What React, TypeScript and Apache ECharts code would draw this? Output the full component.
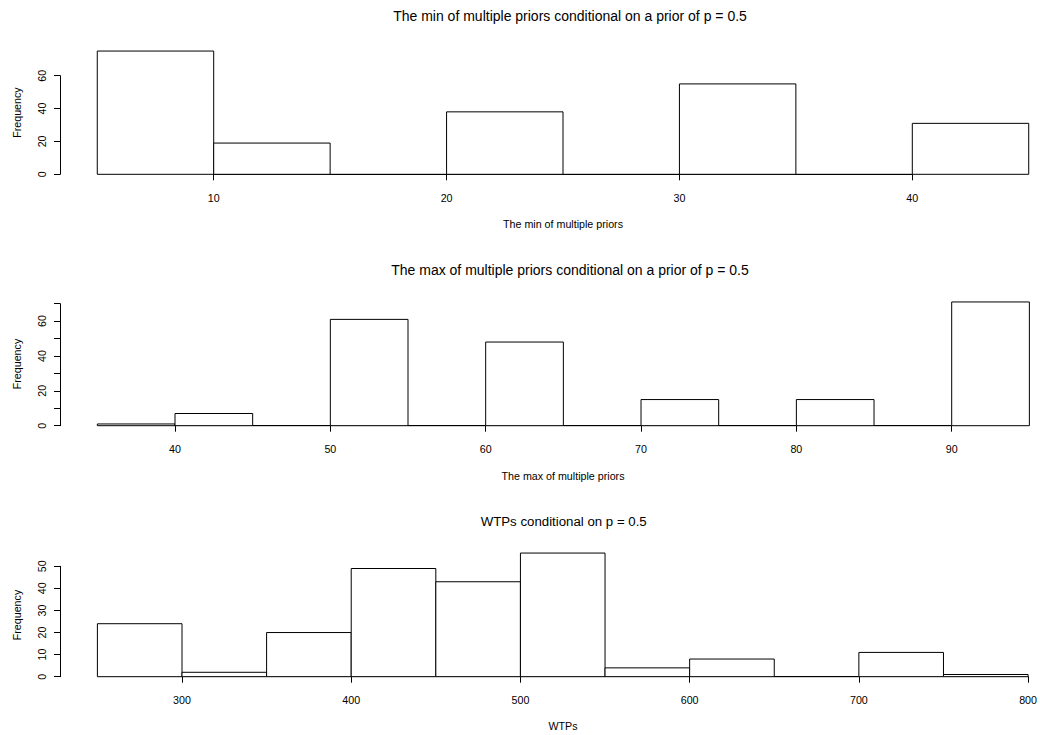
import React, { useEffect, useRef } from "react";
import * as echarts from "echarts";

// ---------- data ----------
const minBreaks = [5, 10, 15, 20, 25, 30, 35, 40, 45];
const minCounts = [75, 19, 0, 38, 0, 55, 0, 31];
const minXTicks = [10, 20, 30, 40];
const minYTicks = [0, 20, 40, 60];
const minYLabels = [0, 20, 40, 60];

const maxBreaks = [35, 40, 45, 50, 55, 60, 65, 70, 75, 80, 85, 90, 95];
const maxCounts = [1, 7, 0, 61, 0, 48, 0, 15, 0, 15, 0, 71];
const maxXTicks = [40, 50, 60, 70, 80, 90];
const maxYTicks = [0, 10, 20, 30, 40, 50, 60, 70];
const maxYLabels = [0, 20, 40, 60];

const wtpBreaks = [250, 300, 350, 400, 450, 500, 550, 600, 650, 700, 750, 800];
const wtpCounts = [24, 2, 20, 49, 43, 56, 4, 8, 0, 11, 1];
const wtpXTicks = [300, 400, 500, 600, 700, 800];
const wtpYTicks = [0, 10, 20, 30, 40, 50];
const wtpYLabels = [0, 10, 20, 30, 40, 50];

const mainTitles = [
  "The min of multiple priors conditional on a prior of p = 0.5",
  "The max of multiple priors conditional on a prior of p = 0.5",
  "WTPs conditional on p = 0.5",
];
const xTitles = ["The min of multiple priors", "The max of multiple priors", "WTPs"];
const yTitle = "Frequency";

// ---------- layout ----------
const FONT = "'Liberation Sans', Arial, Helvetica, sans-serif";
const AXIS_FS = 10.7;
const Y_AXIS_X = 60;

const panels = [
  {
    breaks: minBreaks, counts: minCounts, xTicks: minXTicks, yTicks: minYTicks, yLabels: minYLabels,
    grid: { left: 213.7, top: 75.7, width: 698.6, height: 98.6 },
    titleX: 570, titleY: 16, titleFs: 14, xTitleY: 224, yTitleY: 112.6,
  },
  {
    breaks: maxBreaks, counts: maxCounts, xTicks: maxXTicks, yTicks: maxYTicks, yLabels: maxYLabels,
    grid: { left: 175, top: 303.7, width: 776.7, height: 122 },
    titleX: 570, titleY: 270, titleFs: 14, xTitleY: 476, yTitleY: 364,
  },
  {
    breaks: wtpBreaks, counts: wtpCounts, xTicks: wtpXTicks, yTicks: wtpYTicks, yLabels: wtpYLabels,
    grid: { left: 182, top: 566.3, width: 847, height: 110.4 },
    titleX: 563.7, titleY: 521, titleFs: 13.25, xTitleY: 726, yTitleY: 615,
  },
];

const XTITLE_X = 563;

function buildOption() {
  const grids: any[] = [];
  const xAxes: any[] = [];
  const yAxes: any[] = [];
  const series: any[] = [];
  const graphics: any[] = [];
  const lineStyle = { color: "#000", width: 1 };

  panels.forEach((p, i) => {
    grids.push({ ...p.grid, containLabel: false });
    const xInt = p.xTicks[1] - p.xTicks[0];
    const yInt = p.yTicks[1] - p.yTicks[0];
    xAxes.push({
      gridIndex: i,
      type: "value",
      min: p.xTicks[0],
      max: p.xTicks[p.xTicks.length - 1],
      interval: xInt,
      offset: 5,
      axisLine: { show: true, lineStyle },
      axisTick: { show: true, length: 6, lineStyle },
      axisLabel: {
        margin: 13,
        fontSize: AXIS_FS,
        color: "#000",
        fontFamily: FONT,
        formatter: (v: number) => (p.xTicks.includes(v) ? String(v) : ""),
      },
      splitLine: { show: false },
    });
    yAxes.push({
      gridIndex: i,
      type: "value",
      position: "left",
      min: p.yTicks[0],
      max: p.yTicks[p.yTicks.length - 1],
      interval: yInt,
      offset: p.grid.left - Y_AXIS_X,
      axisLine: { show: true, lineStyle },
      axisTick: { show: true, length: 6, lineStyle },
      axisLabel: {
        margin: 12.5,
        rotate: 90,
        fontSize: AXIS_FS,
        color: "#000",
        fontFamily: FONT,
        formatter: (v: number) => (p.yLabels.includes(v) ? String(v) : ""),
      },
      splitLine: { show: false },
    });
    const data = p.counts.map((c, k) => [p.breaks[k], p.breaks[k + 1], c]);
    series.push({
      type: "custom",
      xAxisIndex: i,
      yAxisIndex: i,
      clip: false,
      silent: true,
      encode: { x: [0, 1], y: 2 },
      data,
      renderItem: (params: any, api: any) => {
        const x0 = api.value(0);
        const x1 = api.value(1);
        const c = api.value(2);
        const pTop = api.coord([x0, c]);
        const pBot = api.coord([x1, 0]);
        if (c === 0) {
          return {
            type: "line",
            shape: { x1: pTop[0], y1: pBot[1], x2: pBot[0], y2: pBot[1] },
            style: { stroke: "#000", lineWidth: 1 },
          };
        }
        return {
          type: "rect",
          shape: { x: pTop[0], y: pTop[1], width: pBot[0] - pTop[0], height: pBot[1] - pTop[1] },
          style: { fill: "#fff", stroke: "#000", lineWidth: 1 },
        };
      },
    });
    graphics.push({
      type: "text",
      x: p.titleX,
      y: p.titleY,
      style: {
        text: mainTitles[i],
        fontSize: p.titleFs,
        fontFamily: FONT,
        fill: "#000",
        textAlign: "center",
        textVerticalAlign: "middle",
      },
    });
    graphics.push({
      type: "text",
      x: XTITLE_X,
      y: p.xTitleY,
      style: {
        text: xTitles[i],
        fontSize: AXIS_FS,
        fontFamily: FONT,
        fill: "#000",
        textAlign: "center",
        textVerticalAlign: "middle",
      },
    });
    graphics.push({
      type: "text",
      x: 17,
      y: p.yTitleY,
      rotation: Math.PI / 2,
      style: {
        text: yTitle,
        fontSize: AXIS_FS,
        fontFamily: FONT,
        fill: "#000",
        textAlign: "center",
        textVerticalAlign: "middle",
      },
    });
  });

  return {
    animation: false,
    backgroundColor: "#fff",
    grid: grids,
    xAxis: xAxes,
    yAxis: yAxes,
    series,
    graphic: graphics,
  };
}

export default function App() {
  const ref = useRef<HTMLDivElement>(null);
  useEffect(() => {
    if (!ref.current) return;
    const chart = echarts.init(ref.current, undefined, { renderer: "svg" });
    chart.setOption(buildOption() as any);
    return () => chart.dispose();
  }, []);
  return (
    <div
      ref={ref}
      style={{ position: "absolute", left: 0, top: 0, width: 1040, height: 735, background: "#fff" }}
    />
  );
}
